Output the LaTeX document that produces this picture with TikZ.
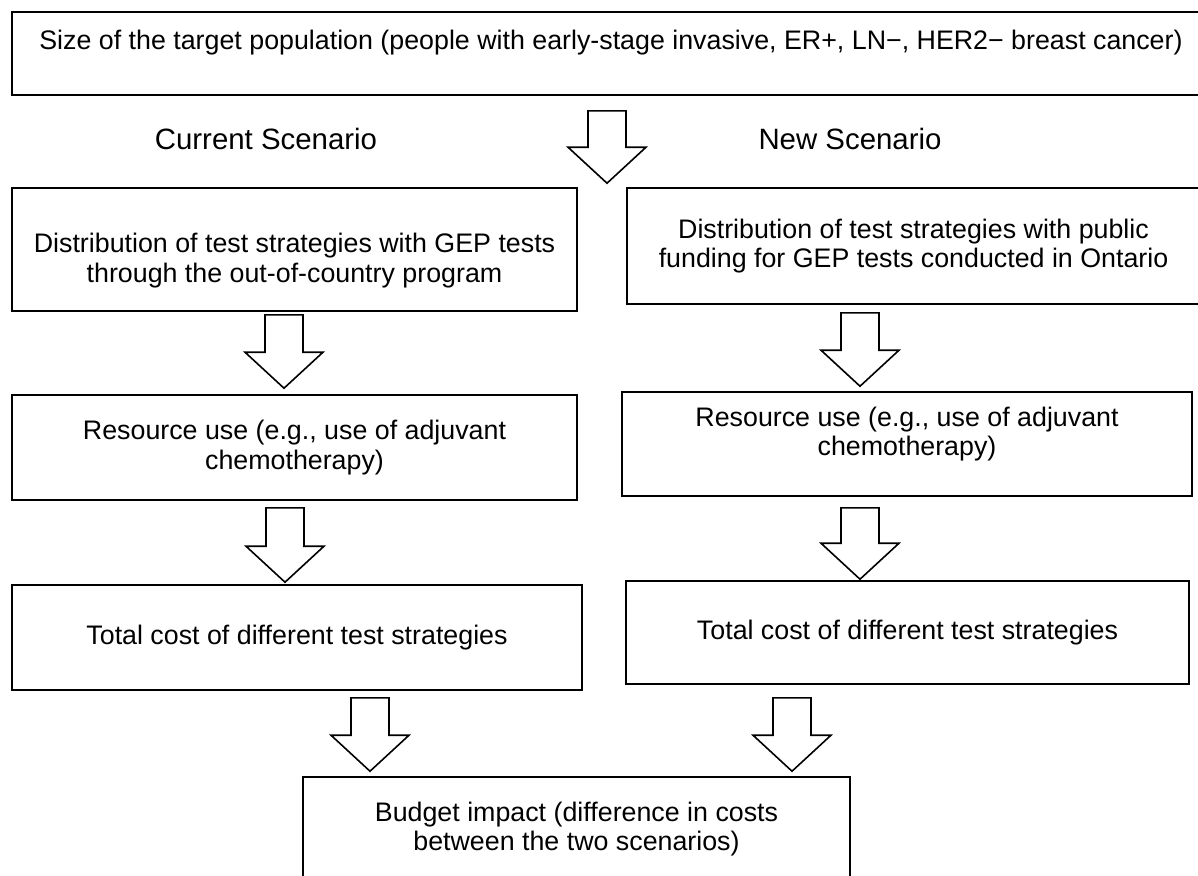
\documentclass[tikz,border=0pt]{standalone}
\usepackage{fontspec}
\setmainfont{Liberation Sans}
\usetikzlibrary{calc}

% hollow block arrow from a start point down to a tip
\newcommand{\blockarrow}[2]{%
  \draw[hollow] let \p1=#1, \p2=#2 in
    (\x1-9.5pt,\y1) -- (\x1+9.5pt,\y1) -- (\x1+9.5pt,\y2+18pt)
    -- (\x1+19.5pt,\y2+18pt) -- (\x1,\y2) -- (\x1-19.5pt,\y2+18pt)
    -- (\x1-9.5pt,\y2+18pt) -- cycle;}

\begin{document}
\begin{tikzpicture}[x=0.5pt, y=-0.5pt,
    box/.style={draw, line width=0.8pt, align=center, inner sep=0pt,
      font=\fontsize{13.4pt}{14.8pt}\selectfont},
    scen/.style={font=\fontsize{14.7pt}{16pt}\selectfont},
    hollow/.style={draw, fill=white, line width=0.8pt, line join=miter}]
    \useasboundingbox (0,0) rectangle (1198,875);
    \clip (0,0) rectangle (1198,875);

    \node[box, minimum width=599pt, minimum height=41.5pt,
      text height=18.5pt, text depth=23pt] (top) at (611,53.5)
      {Size of the target population (people with early-stage invasive, ER+, LN−, HER2− breast cancer)};

    \node[scen] (cur) at (266,139) {Current Scenario};
    \node[scen] (new) at (850,139) {New Scenario};

    % current scenario
    \node[box, minimum width=282.5pt, minimum height=61.5pt] (L1) at (294.5,249.5)
      {\rule{0pt}{21pt}Distribution of test strategies with GEP tests\\through the out-of-country program};
    \node[box, minimum width=282.5pt, minimum height=52.5pt] (L2) at (294.5,447.5)
      {Resource use (e.g., use of adjuvant\\chemotherapy)};
    \node[box, minimum width=285pt, minimum height=52.5pt] (L3) at (297,637.5)
      {Total cost of different test strategies};

    % new scenario
    \node[box, minimum width=286.5pt, minimum height=58pt] (R1) at (913.5,246)
      {Distribution of test strategies with public\\funding for GEP tests conducted in Ontario};
    \node[box, minimum width=285pt, minimum height=52pt] (R2) at (907,444)
      {Resource use (e.g., use of adjuvant\\chemotherapy)\rule[-12.8pt]{0pt}{12.8pt}};
    \node[box, minimum width=281.5pt, minimum height=51.5pt] (R3) at (907.5,632.5)
      {Total cost of different test strategies};

    \node[box, minimum width=273.5pt, minimum height=52pt] (budget) at (576.5,829)
      {Budget impact (difference in costs\\between the two scenarios)};

    \blockarrow{($(top.south)+(-4,15)$)}{($(L1.north east)!.5!(R1.north west)+(5,-4)$)}
    \blockarrow{($(L1.south)+(-10.5,3)$)}{($(L2.north)+(-10.5,-6)$)}
    \blockarrow{($(L2.south)+(-9.5,7)$)}{($(L3.north)+(-12,-2)$)}
    \blockarrow{($(R1.south)+(-53.5,8)$)}{($(R2.north)+(-47,-5)$)}
    \blockarrow{($(R2.south)+(-47,11)$)}{($(R3.north)+(-47,-1)$)}
    \blockarrow{($(L3.south)+(73,7)$)}{($(budget.north)+(-206.5,-5)$)}
    \blockarrow{($(R3.south)+(-115.5,13)$)}{($(budget.north)+(215.5,-5)$)}
\end{tikzpicture}
\end{document}
